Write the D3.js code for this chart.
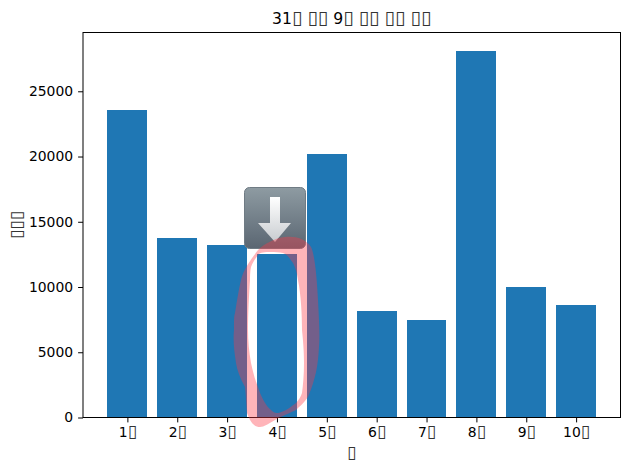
<!DOCTYPE html>
<html lang="ko">

<head>
  <meta charset="UTF-8">
  <title>31▯ ▯▯ 9▯ ▯▯ ▯▯ ▯▯</title>
  <script src="https://d3js.org/d3.v7.min.js"></script>
  <style type="text/css">
    body {
      margin: 0;
      background: white;
    }

    svg {
      display: block;
    }

    text {
      font-family: "DejaVu Sans", sans-serif;
      fill: black;
    }

    .axis text {
      font-size: 13.9px;
    }

    .axis line {
      stroke: black;
      stroke-width: 1px;
    }
  </style>
</head>

<body>
  <div id="chart">
    <svg width="630" height="470"></svg>
  </div>
  <script type="text/javascript">
    // Data. The Korean glyphs are missing boxes in the reference.
    const months = ["1▯", "2▯", "3▯", "4▯", "5▯", "6▯", "7▯", "8▯", "9▯", "10▯"];
    const counts = [23600, 13750, 13200, 12500, 20200, 8200, 7500, 28100, 10000, 8600];
    const yTicks = [0, 5000, 10000, 15000, 20000, 25000];
    const titleText = "31▯ ▯▯ 9▯ ▯▯ ▯▯ ▯▯";
    const xLabel = "▯";
    const yLabel = "▯▯▯";

    let svg = d3.select("#chart svg"),
      margin = { top: 32.5, right: 9.5, bottom: 52.5, left: 83 },
      width = +svg.attr("width") - margin.left - margin.right,
      height = +svg.attr("height") - margin.top - margin.bottom,
      g = svg.append("g").attr("transform", "translate(" + margin.left + "," + margin.top + ")");

    let x = d3.scaleLinear().domain([-0.89, 9.89]).range([0, width]);
    let y = d3.scaleLinear().domain([0, 29505]).range([height, 0]);
    let barWidth = x(0.8) - x(0);

    // Writes a label, with the box glyphs enlarged to the size of a missing-glyph box
    function boxText(sel, str) {
      sel.text(null);
      str.split(/(▯+)/).filter(s => s !== "").forEach(function (s) {
        let span = sel.append("tspan").text(s);
        if (s[0] === "▯") {
          span.style("font-size", "1.22em").style("fill", "#333");
        }
      });
    }

    // Bars
    g.append("g")
      .selectAll("rect")
      .data(counts)
      .enter()
      .append("rect")
      .attr("x", (d, i) => x(i) - barWidth / 2)
      .attr("y", d => y(d))
      .attr("width", barWidth)
      .attr("height", d => height - y(d))
      .attr("fill", "#1f77b4")
      .attr("shape-rendering", "crispEdges");

    // Axes
    let xAxis = g.append("g")
      .attr("class", "axis")
      .attr("transform", "translate(0," + height + ")")
      .call(d3.axisBottom(x).tickValues(d3.range(months.length)).tickFormat(i => months[i]).tickSize(4.9).tickPadding(5));
    xAxis.select(".domain").remove();
    xAxis.selectAll(".tick text").each(function (i) { boxText(d3.select(this), months[i]); });

    g.append("g")
      .attr("class", "axis")
      .call(d3.axisLeft(y).tickValues(yTicks).tickFormat(d3.format("d")).tickSize(4.9).tickPadding(5))
      .select(".domain").remove();

    g.append("rect")
      .attr("width", width)
      .attr("height", height)
      .attr("fill", "none")
      .attr("stroke", "black")
      .attr("stroke-width", 1);

    // Titles
    svg.append("text")
      .attr("x", margin.left + width / 2)
      .attr("y", 24)
      .attr("text-anchor", "middle")
      .style("font-size", "15.6px")
      .call(boxText, titleText);

    svg.append("text")
      .attr("x", margin.left + width / 2)
      .attr("y", 458)
      .attr("text-anchor", "middle")
      .style("font-size", "13.9px")
      .call(boxText, xLabel);

    svg.append("text")
      .attr("transform", "translate(22," + (margin.top + height / 2) + ") rotate(-90)")
      .attr("text-anchor", "middle")
      .style("font-size", "13.9px")
      .call(boxText, yLabel);

    // Overlay: download icon
    let defs = svg.append("defs");
    let boxGrad = defs.append("linearGradient").attr("id", "boxGrad").attr("x2", 0).attr("y2", 1);
    boxGrad.append("stop").attr("offset", 0).attr("stop-color", "#8e9ba2");
    boxGrad.append("stop").attr("offset", 1).attr("stop-color", "#5a6672");
    let arrowGrad = defs.append("linearGradient").attr("id", "arrowGrad").attr("x2", 0).attr("y2", 1);
    arrowGrad.append("stop").attr("offset", 0).attr("stop-color", "#ffffff");
    arrowGrad.append("stop").attr("offset", 1).attr("stop-color", "#c8ccd0");

    let icon = svg.append("g").attr("transform", "translate(244,187)");
    icon.append("rect")
      .attr("x", 0.5).attr("y", 0.5).attr("width", 61).attr("height", 61).attr("rx", 5)
      .attr("fill", "url(#boxGrad)")
      .attr("stroke", "#6f7b84");
    icon.append("path")
      .attr("d", "M26 10H36V36H47L31 55L14 36H26Z")
      .attr("fill", "url(#arrowGrad)");

    // Overlay: hand-drawn pink loop round the fourth bar
    svg.append("path")
      .attr("fill-rule", "evenodd")
      .attr("fill", "rgb(255,55,68)")
      .attr("fill-opacity", 0.375)
      .attr("d", "M258 250C264 244 275 238 285 237C295 236 305 238 311 247C315 255 317 280 318 300C319 320 320 335 319 347C318 365 316 378 308 397C303 404 298 408 296 410C285 415 278 418 275 420C268 424 264 427 260 427C255 427 251 424 247 413C246 402 246 395 245 387C240 378 237 370 236 363C234 350 233 340 234 330C234 320 234 316 235 313C237 300 239 288 241 280C243 272 246 266 258 250Z" +
        "M271 252C265 252 260 252 258 255C255 259 253 262 251 267C250 272 250 276 250 280C249 295 248 315 248 330C248 340 249 352 251 363C253 372 255 380 258 387C261 397 266 406 271 410C274 413 276 413 278 413C284 412 291 407 296 403C299 400 301 396 302 393C303 385 304 375 304 363C304 350 303 340 302 330C302 315 301 295 298 280C297 272 295 267 293 263C290 259 288 255 283 253C279 252 275 252 271 252Z");
  </script>
</body>

</html>
